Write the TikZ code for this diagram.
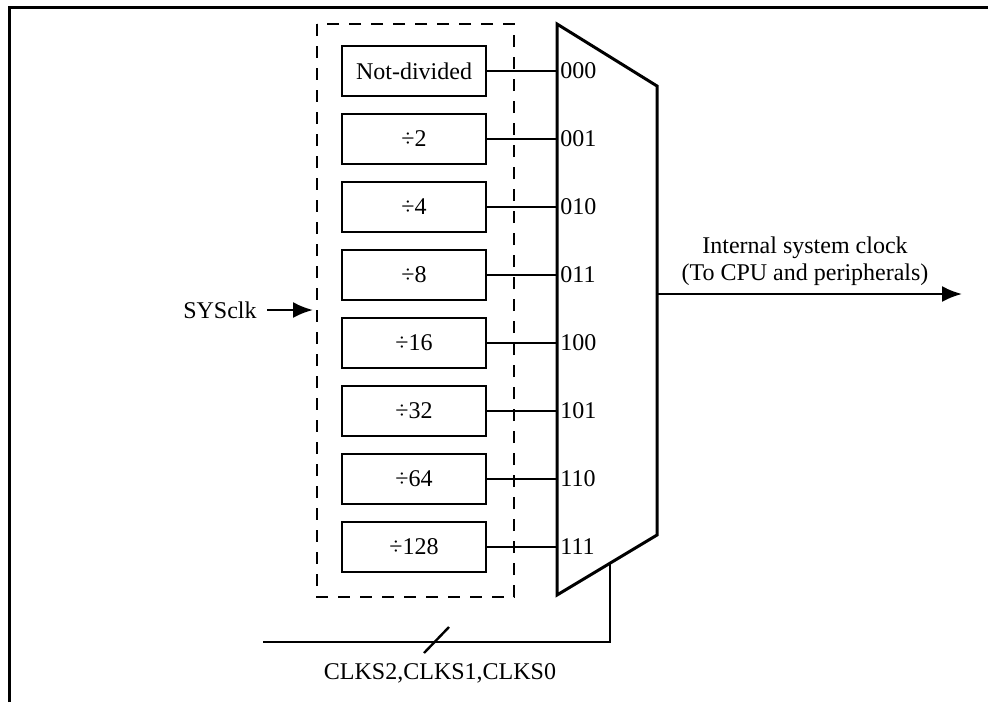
\documentclass[tikz,border=0pt]{standalone}
\usepackage{fontspec}
\setmainfont{Liberation Serif}
\usetikzlibrary{arrows.meta}
\tikzset{
  divbox/.style={draw, line width=1.2pt, minimum width=72pt, minimum height=25pt, inner sep=0pt},
  selcode/.style={anchor=west, inner sep=1.5pt},
  wire/.style={line width=1pt},
  sig/.style={line width=1.2pt, -{Latex[length=10pt,width=8pt]}},
}
\begin{document}
\begin{tikzpicture}[x=0.5pt,y=-0.5pt,font=\fontsize{12}{13.5}\selectfont]
        \useasboundingbox (0,0) rectangle (988,702);
        \def\ytop{71} \def\ystep{68}

        % outer frame
        \draw[line width=1.5pt] (9,702) -- (9,7) -- (988,7);

        % divider block
        \draw[line width=0.9pt, dash pattern=on 6pt off 5pt] (317,24) rectangle (514,597);

        % multiplexer
        \draw[line width=1.5pt] (557,24) -- (657,86) -- (657,535) -- (557,595) -- cycle;
        \coordinate (muxout) at (657,294);
        \coordinate (clkout) at (962,294);
        \coordinate (selin) at (610,563);
        \coordinate (selcorner) at (610,642);
        \coordinate (selend) at (263,642);
        \coordinate (divin) at (313,310);

        \foreach \txt/\code [count=\i from 0] in {Not-divided/000, ÷2/001, ÷4/010, ÷8/011,
            ÷16/100, ÷32/101, ÷64/110, ÷128/111} {
          \node[divbox] (div\i) at (414,{\ytop+\ystep*\i}) {\txt};
          \node[selcode] (code\i) at (557,{\ytop+\ystep*\i}) {\code};
          \draw[wire] (div\i.east) -- (code\i.west);
        }

        % clock in
        \node[anchor=east, inner sep=5pt] (sysclk) at (267,310) {SYSclk};
        \draw[sig] (sysclk.east) -- (divin);

        % clock out
        \draw[sig] (muxout) -- (clkout);
        \node[align=center] (outlabel) at (805,261) {Internal system clock\\(To CPU and peripherals)};

        % select bus
        \draw[line width=1.2pt] (selin) -- (selcorner) -- (selend);
        \draw[line width=1.2pt] (424,653) -- (449,627);
        \node (sellabel) at (440,673) {CLKS2,CLKS1,CLKS0};
      \end{tikzpicture}
\end{document}
